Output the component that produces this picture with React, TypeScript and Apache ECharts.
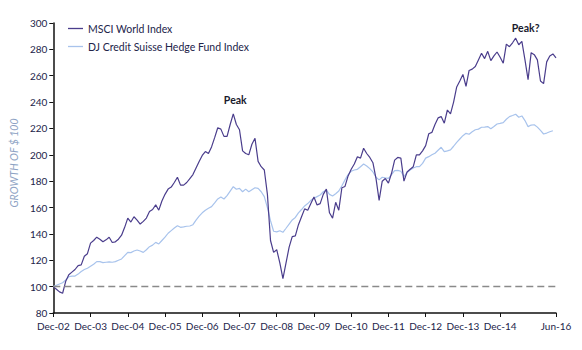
import React, { useEffect, useRef } from "react";
import * as echarts from "echarts";

const monthNames = ["Jan", "Feb", "Mar", "Apr", "May", "Jun", "Jul", "Aug", "Sep", "Oct", "Nov", "Dec"];
const startYear = 2002;
const startMonth = 11; // December
const monthCount = 163; // Dec-02 .. Jun-16

const msciWorld = [
  100, 98, 96, 95, 104, 109, 111, 113, 116, 116.5, 123, 125,
  133, 135, 137.5, 136, 134, 135.5, 137.5, 133.5, 134, 136, 139, 145,
  152, 149, 153, 150.5, 147.5, 149.5, 152, 157, 158.5, 162, 158, 165,
  170, 174, 175.5, 179, 183, 177, 177, 179, 182, 185, 190, 195,
  199.5, 202.5, 201, 206, 213, 220.5, 219.5, 214, 214, 223, 231, 223,
  219, 203, 201, 200, 208, 212.5, 195, 191, 188.5, 170, 135, 126,
  128, 118, 106, 118, 130, 138, 138.5, 147, 153, 159, 158, 163,
  168, 162, 163, 170, 174, 156, 152, 164, 158, 175, 176, 184,
  189, 193, 198.5, 197.5, 205, 201, 198, 194, 182, 165.5, 180, 182,
  178.5, 186, 196, 198, 197.5, 180, 187, 189, 191, 200, 200, 203,
  207, 216, 217, 223, 228, 229, 224, 234, 231, 240, 251.5, 256,
  261, 252, 264, 265, 267, 272, 277, 273, 278.5, 271.5, 275, 278,
  274, 269.5, 284, 282, 285, 288.5, 283.5, 286, 272, 257, 277.5, 276,
  272, 256, 254, 270.5, 275, 276.5, 273.5,
];

const djHedge = [
  100, 101, 102, 103, 105, 107.5, 108, 108, 109.5, 111.5, 113, 114,
  115.5, 117, 119, 119, 118.2, 118.5, 118.8, 118.5, 119, 120, 121, 123.5,
  126, 125.8, 127, 127.8, 127, 126, 128, 130.3, 131.5, 133.6, 132.4, 135,
  137.5, 140.5, 142.5, 144.5, 146.2, 145, 145.3, 145.8, 146, 147, 150.5, 153.5,
  156, 158, 159.5, 160.7, 163.5, 166.5, 168, 166.5, 169, 172.5, 175.8, 173.9,
  174.6, 172, 174, 172, 173.5, 175, 174.5, 172, 168.3, 160, 150, 142,
  141.5, 142.4, 141.2, 144.3, 147.5, 150.6, 152.5, 156, 158.5, 161.2, 163, 165.5,
  167, 168.3, 169.5, 172, 173.3, 170, 168.8, 170.5, 172.6, 176.5, 181, 185,
  187.5, 188.5, 189, 191, 193, 191.5, 189.5, 187, 183, 181, 183, 182.5,
  182.2, 185, 188, 188.2, 187.5, 183.5, 186.5, 188.5, 190, 191, 191, 193.5,
  197.5, 198.6, 200, 201.2, 203.5, 205.7, 202.4, 203, 203.7, 206.5, 209.5, 212,
  214.5, 216.3, 215.6, 217.5, 219, 219.5, 220.9, 221, 221.4, 219.8, 221.5, 223.4,
  223.8, 224.4, 227, 229, 229.8, 230.8, 228.5, 229.5, 226, 221.4, 222.6, 222.8,
  221, 218.5, 215.8, 216.5, 217.5, 218.3,
];

const seriesNames = ["MSCI World Index", "DJ Credit Suisse Hedge Fund Index"];
const yTicks = { min: 80, max: 300, interval: 20 };
const baseline = 100;
const annotations = [
  { label: "Peak", index: 58 },
  { label: "Peak?", index: 149 },
];

const categories: string[] = [];
for (let i = 0; i < monthCount; i++) {
  const total = startMonth + i;
  const m = total % 12;
  const y = startYear + Math.floor(total / 12);
  categories.push(`${monthNames[m]}-${String(y % 100).padStart(2, "0")}`);
}

const lastIndex = monthCount - 1;
const showTick = (index: number) => (index % 12 === 0 && index <= 144) || index === lastIndex;

const FONT = "Lato, 'Noto Sans', sans-serif";
const TEXT = "#22244a";

export default function App() {
  const ref = useRef<HTMLDivElement>(null);
  useEffect(() => {
    if (!ref.current) return;
    const chart = echarts.init(ref.current, undefined, { renderer: "svg" });
    chart.setOption({
      animation: false,
      backgroundColor: "#ffffff",
      textStyle: { fontFamily: FONT },
      grid: { left: 48, right: 26, top: 23, bottom: 37, containLabel: false },
      legend: {
        orient: "vertical",
        left: 63,
        top: 18,
        icon: "path://M0,0L16,0L16,1.4L0,1.4Z",
        itemWidth: 15,
        itemHeight: 10,
        itemGap: 7,
        textStyle: { fontFamily: FONT, fontSize: 10.5, color: TEXT },
        data: seriesNames,
      },
      xAxis: {
        type: "category",
        data: categories,
        boundaryGap: false,
        axisLine: { lineStyle: { color: "#111111", width: 1.5 } },
        axisTick: { interval: showTick, length: 4, lineStyle: { color: "#111111", width: 1 } },
        axisLabel: {
          interval: showTick,
          fontFamily: FONT,
          fontSize: 10,
          color: TEXT,
          margin: 8,
        },
        splitLine: { show: false },
      },
      yAxis: {
        type: "value",
        min: yTicks.min,
        max: yTicks.max,
        interval: yTicks.interval,
        name: "GROWTH OF $ 100",
        nameLocation: "middle",
        nameGap: 33,
        nameRotate: 90,
        nameTextStyle: { fontFamily: FONT, fontSize: 10.5, fontStyle: "italic", color: "#8ea3c4", padding: [0, 0, 0, 10] },
        axisLine: { show: true, lineStyle: { color: "#111111", width: 1.5 } },
        axisTick: { show: true, length: 4, lineStyle: { color: "#111111", width: 1 } },
        axisLabel: { fontFamily: FONT, fontSize: 10, color: TEXT, margin: 6 },
        splitLine: { show: false },
      },
      series: [
        {
          name: seriesNames[0],
          type: "line",
          data: msciWorld,
          symbol: "none",
          z: 3,
          lineStyle: { color: "#4a3d8c", width: 1.2 },
          itemStyle: { color: "#4a3d8c" },
          markPoint: {
            symbol: "circle",
            symbolSize: 0,
            data: annotations.map((a, k) => ({
              coord: [a.index, msciWorld[a.index]],
              value: a.label,
              label: {
                show: true,
                formatter: a.label,
                offset: k === 0 ? [2, -14] : [10, -10],
                fontFamily: FONT,
                fontSize: 10.5,
                fontWeight: "bold",
                color: "#1a1a2e",
              },
            })),
          },
          markLine: {
            silent: true,
            symbol: "none",
            label: { show: false },
            lineStyle: { color: "#8a8a8a", type: [7, 4], width: 1.3 },
            data: [{ yAxis: baseline }],
          },
        },
        {
          name: seriesNames[1],
          type: "line",
          data: djHedge,
          symbol: "none",
          z: 2,
          lineStyle: { color: "#a8c3ec", width: 1.2 },
          itemStyle: { color: "#a8c3ec" },
        },
      ],
    });
    return () => chart.dispose();
  }, []);
  return (
    <div
      ref={ref}
      style={{ position: "fixed", left: 0, top: 0, width: 582, height: 350, background: "#fff" }}
    />
  );
}
